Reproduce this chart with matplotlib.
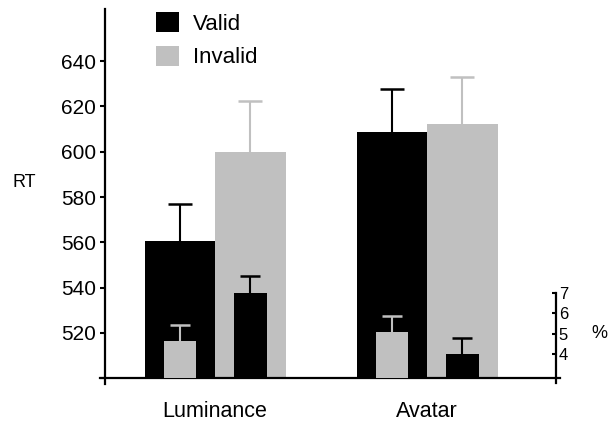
import matplotlib
matplotlib.use("Agg")
import matplotlib.pyplot as plt
from matplotlib.patches import Patch
import numpy as np

plt.rcParams['font.family'] = ['Liberation Sans', 'DejaVu Sans']

groups = ["Luminance", "Avatar"]
conditions = ["Valid", "Invalid"]
rt_valid = [560.6, 608.8]
rt_invalid = [600.0, 612.4]
rt_valid_err = [16.5, 19.0]
rt_invalid_err = [22.2, 20.7]
pct_valid = [4.65, 5.07]
pct_invalid = [7.0, 3.99]
pct_valid_err = [0.79, 0.80]
pct_invalid_err = [0.82, 0.78]
rt_ticks = [500, 520, 540, 560, 580, 600, 620, 640]
rt_ticklabels = ["", "520", "540", "560", "580", "600", "620", "640"]
pct_ticks = [4, 5, 6, 7]

BLACK = "#000000"
GRAY = "#c0c0c0"

W, H = 608, 423
fig = plt.figure(figsize=(W / 100, H / 100), dpi=100)
left, right, top, bottom = 105, 556, 9, 378.3
ax = fig.add_axes([left / W, 1 - bottom / H, (right - left) / W, (bottom - top) / H])

x = np.arange(len(groups))
w = 0.3325
iw = 0.153


def upper_err(a, xs, ys, err, color, cap):
    eb = a.errorbar(xs, ys, yerr=[np.zeros(len(err)), err], fmt="none",
                    ecolor=color, elinewidth=1.5, capsize=cap, capthick=1.8, zorder=1)
    caps = eb[1]
    if len(caps) > 1:
        caps[0].set_visible(False)
    return eb


ax.bar(x - w / 2, rt_valid, w, color=BLACK, zorder=2)
ax.bar(x + w / 2, rt_invalid, w, color=GRAY, zorder=2)
upper_err(ax, x - w / 2, rt_valid, rt_valid_err, BLACK, 8.6)
upper_err(ax, x + w / 2, rt_invalid, rt_invalid_err, GRAY, 8.6)

ax.set_ylim(500, 663)
ax.set_xlim(-0.519, 1.608)
ax.set_yticks(rt_ticks)
ax.set_yticklabels(rt_ticklabels, fontsize=15)
ax.set_xticks(x)
ax.set_xticklabels(groups, fontsize=15.5)
ax.tick_params(axis="x", length=0, pad=16)
ax.tick_params(axis="y", direction="out", length=3.8, width=1.5, pad=2.5)
for s in ["top", "right"]:
    ax.spines[s].set_visible(False)
ax.spines["left"].set_linewidth(1.6)
ax.spines["bottom"].set_linewidth(1.6)
ax.spines["left"].set_bounds(497.6, 663)
ax.spines["bottom"].set_bounds(-0.543, 1.627)
ax.set_ylabel("RT", rotation=0, fontsize=13, ha="center", va="center")
ax.yaxis.set_label_coords(-0.180, 0.5315)

# inset error-rate axis
ax2 = ax.twinx()
ax2.set_ylim(2.8, 2.8 + (bottom - top) / 20.33)
ax2.bar(x - w / 2, pct_valid, iw, color=GRAY, zorder=2)
ax2.bar(x + w / 2, pct_invalid, iw, color=BLACK, zorder=2)
upper_err(ax2, x - w / 2, pct_valid, pct_valid_err, GRAY, 7.2)
upper_err(ax2, x + w / 2, pct_invalid, pct_invalid_err, BLACK, 7.2)
for s in ["top", "left", "bottom"]:
    ax2.spines[s].set_visible(False)
ax2.spines["right"].set_linewidth(1.6)
ax2.spines["right"].set_bounds(2.55, 7.0)
ax2.set_yticks(pct_ticks)
ax2.set_yticklabels([str(t) for t in pct_ticks], fontsize=12)
ax2.tick_params(axis="y", direction="in", length=3, width=1.5, pad=2)
ax2.set_ylabel("%", rotation=0, fontsize=13, ha="center", va="center")
ax2.yaxis.set_label_coords(1.097, 0.120)

handles = [Patch(facecolor=BLACK, edgecolor="none"), Patch(facecolor=GRAY, edgecolor="none")]
fs = 16
leg = fig.legend(handles, conditions, loc="upper left",
                 bbox_to_anchor=(156 / W, 1 - 12 / H), frameon=False,
                 fontsize=fs, handlelength=1.04, handleheight=1.0,
                 handletextpad=0.62, labelspacing=0.5, borderpad=0, borderaxespad=0)

fig.savefig("out.png", dpi=100)
